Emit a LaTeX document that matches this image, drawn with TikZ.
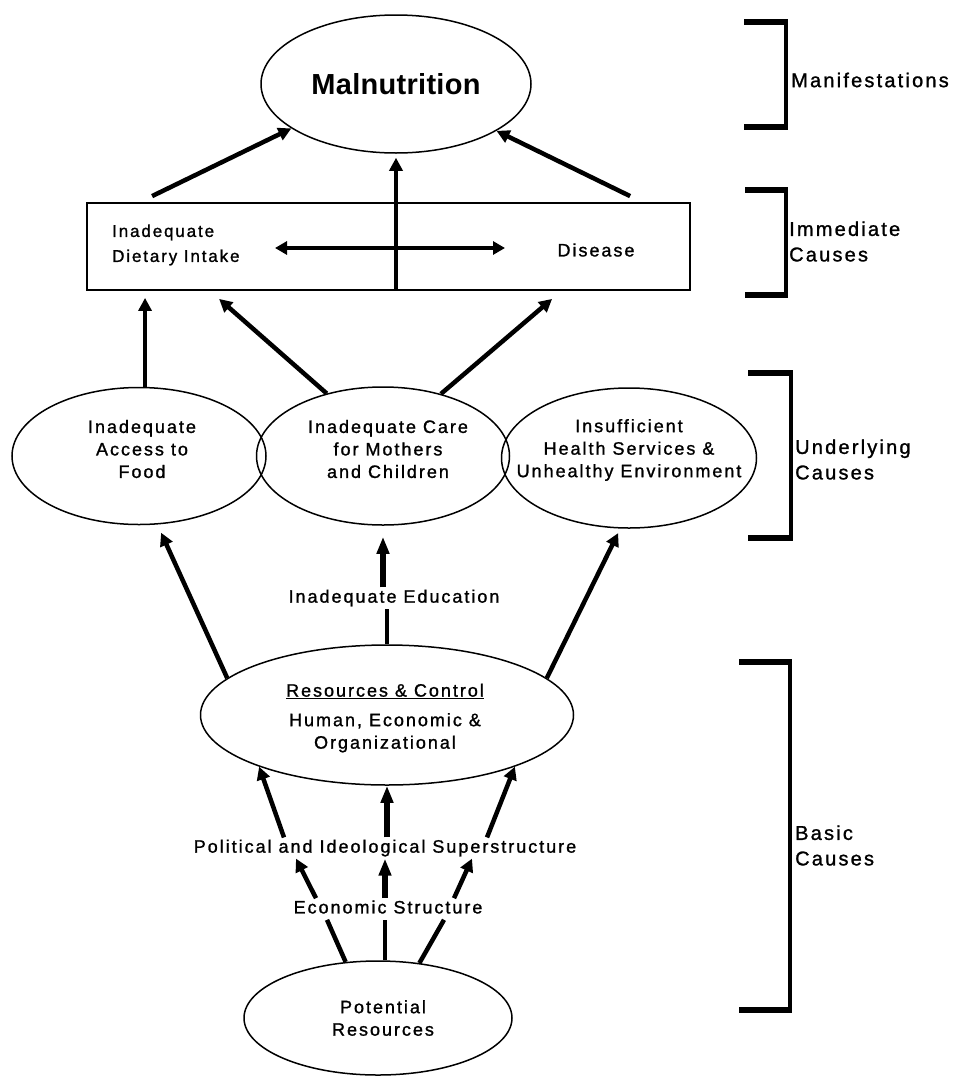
\documentclass[tikz,border=0pt]{standalone}
\usepackage{fontspec}
\setmainfont{Liberation Sans}
\newfontfamily\labfont[LetterSpace=11,FakeBold=1.2]{Liberation Sans}
\newfontfamily\bigfont[LetterSpace=1]{Liberation Sans Bold}
\usetikzlibrary{arrows.meta,shapes.geometric,calc}
\begin{document}
\begin{tikzpicture}[x=1pt,y=-1pt,
  every node/.style={font=\labfont\fontsize{18}{22.5}\selectfont, inner sep=2pt},
  ell/.style={draw, ellipse, line width=1.5pt, inner sep=0pt},
  ctext/.style={align=center},
  arr/.style={line width=4.5pt, -{Triangle[length=13pt,width=13pt]}},
  bigarr/.style={line width=6.5pt, -{Triangle[length=17pt,width=12pt]}},
  dbl/.style={line width=4.5pt, {Triangle[length=12pt,width=13pt]}-{Triangle[length=12pt,width=13pt]}},
  plainln/.style={line width=4.5pt},
  brkv/.style={line width=3.5pt},
  brka/.style={line width=6.5pt},
  side/.style={anchor=west, align=left, inner sep=0pt, font=\labfont\fontsize{20}{25.5}\selectfont}
]
\fill[white] (0,0) rectangle (953,1079);
\useasboundingbox (0,0) rectangle (953,1079);

% nodes
\node[ell, minimum width=270pt, minimum height=138pt, font=\bigfont\fontsize{29}{34}\selectfont] (mal) at (396,84) {Malnutrition};
\node[draw, line width=1.8pt, minimum width=603pt, minimum height=87pt, inner sep=0pt] (box) at (388.5,246.5) {};
\node[anchor=west, align=left, font=\labfont\fontsize{17}{25}\selectfont] (diet) at (110,245) {Inadequate\\Dietary Intake};
\node (dis) at (596,250) {Disease};
\coordinate (dl) at (275,248);
\coordinate (dr) at (505,248);

\node[ell, minimum width=254pt, minimum height=137pt] (food) at (139,456) {};
\node[ctext] (foodtxt) at (142,449) {Inadequate\\Access to\\Food};
\node[ell, minimum width=253pt, minimum height=138pt] (care) at (383,456) {};
\node[ctext] (caretxt) at (388,449) {Inadequate Care\\for Mothers\\and Children};
\node[ell, minimum width=255pt, minimum height=140pt] (health) at (629,458) {};
\node[ctext] (healthtxt) at (629,450) {Insufficient\\Health Services \&\\Unhealthy Environment};

\node (edu) at (394,598) {Inadequate Education};

\node[ell, minimum width=373pt, minimum height=140pt] (res) at (387,715) {};
\node[ctext] (restxt) at (385,718) {\underline{Resources \& Control}\\[7pt]Human, Economic \&\\Organizational};

\node (pol) at (385,848) {Political and Ideological Superstructure};
\node (eco) at (388,907) {Economic Structure};

\node[ell, minimum width=268pt, minimum height=114pt] (pot) at (378,1018) {};
\node[ctext] (pottxt) at (383,1018) {Potential\\Resources};

% side labels
\node[side] (l1) at (791,80) {Manifestations};
\node[side] (l2) at (789,241.5) {Immediate\\Causes};
\node[side] (l3) at (795,459.5) {Underlying\\Causes};
\node[side] (l4) at (795,845.5) {Basic\\Causes};

% brackets
\draw[brkv] (786,22) -- (786,127);
\draw[brka] (744,22) -- (787.5,22) (744,127) -- (787.5,127);
\draw[brkv] (786,190) -- (786,295);
\draw[brka] (745,190) -- (787.5,190) (745,295) -- (787.5,295);
\draw[brkv] (791,373) -- (791,538);
\draw[brka] (748,373) -- (792.5,373) (748,538) -- (792.5,538);
\draw[brkv] (790,662) -- (790,1010);
\draw[brka] (739,662) -- (791.5,662) (739,1010) -- (791.5,1010);

% immediate causes -> malnutrition
\draw[arr] ([xshift=66pt,yshift=6pt]box.north west) -- (mal.203);
\draw[arr] ([xshift=544pt,yshift=6pt]box.north west) -- (mal.335);
\draw[arr, shorten >=4pt] (mal.south |- box.south) -- (mal.south);
\draw[dbl] (dl) -- (dr);

% underlying -> immediate
\draw[arr, shorten >=7pt] (food.85) -- (food.85 |- box.south);
\draw[arr] (care.132) -- ([xshift=133pt,yshift=-8pt]box.south west);
\draw[arr] (care.47) -- ([xshift=466pt,yshift=-8pt]box.south west);

% basic -> underlying
\draw[arr, shorten >=9pt] (res.167) -- (food.285);
\draw[arr, shorten >=5pt] (res.13) -- (health.263);
\draw[plainln] (res.north) -- (res.north |- edu.south);
\draw[bigarr, shorten >=11pt] (care.south |- edu.north) -- (care.south);

% superstructure -> resources
\draw[arr] ([xshift=-101pt]pol.north) -- (res.202);
\draw[bigarr] (pol.north -| res.south) -- (res.south);
\draw[arr] ([xshift=102pt]pol.north) -- (res.338);

% economic -> superstructure
\draw[arr] ([xshift=-72pt]eco.north) -- ([xshift=-89pt]pol.south);
\draw[bigarr] (eco.north -| pol.south) -- (pol.south);
\draw[arr] ([xshift=66pt]eco.north) -- ([xshift=87pt]pol.south);

% potential -> economic
\draw[plainln] (pot.120) -- ([xshift=-61pt,yshift=-4pt]eco.south);
\draw[plainln] ([xshift=7pt]pot.north) -- ([xshift=7pt,yshift=-4pt]pot.north |- eco.south);
\draw[plainln] (pot.53) -- ([xshift=56pt,yshift=-4pt]eco.south);
\end{tikzpicture}
\end{document}
